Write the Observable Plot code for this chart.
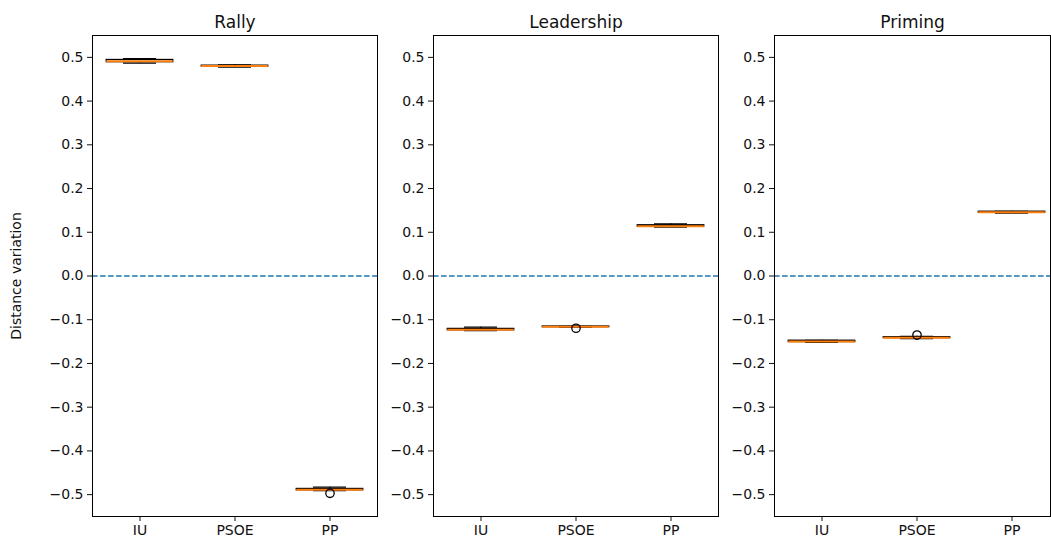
<!DOCTYPE html>
<html>
<head>
<meta charset="utf-8">
<script src="https://cdn.jsdelivr.net/npm/d3@7"></script>
<script src="https://cdn.jsdelivr.net/npm/@observablehq/plot@0.6"></script>
<style>
  html, body { margin: 0; padding: 0; background: #fff; overflow: hidden; }
  #wrap { position: relative; width: 1051px; height: 547px; }
  #wrap > div { position: absolute; top: 0; }
</style>
</head>
<body>
<div id="wrap"></div>
<script>
// ---- data ----
const panels = ["Rally", "Leadership", "Priming"];
const parties = ["IU", "PSOE", "PP"];
const yTicks = [-0.5, -0.4, -0.3, -0.2, -0.1, 0.0, 0.1, 0.2, 0.3, 0.4, 0.5];
const medians     = [[0.491, 0.480, -0.489], [-0.123, -0.116, 0.114], [-0.150, -0.141, 0.146]];
const q1          = [[0.489, 0.479, -0.490], [-0.124, -0.117, 0.113], [-0.151, -0.142, 0.145]];
const q3          = [[0.494, 0.481, -0.487], [-0.121, -0.1155, 0.116], [-0.148, -0.140, 0.147]];
const whiskerLow  = [[0.487, 0.478, -0.491], [-0.125, -0.1175, 0.112], [-0.152, -0.143, 0.144]];
const whiskerHigh = [[0.497, 0.483, -0.483], [-0.117, -0.115, 0.119], [-0.147, -0.138, 0.148]];
const outliers    = [[[], [], [-0.497]], [[], [-0.1195], []], [[], [-0.135], []]];

// ---- layout ----
const spineLeft = [92, 433, 774];
const ML = 92;
const wrap = document.getElementById("wrap");

panels.forEach((title, i) => {
  const rows = parties.map((p, j) => ({
    party: p, med: medians[i][j], q1: q1[i][j], q3: q3[i][j],
    wl: whiskerLow[i][j], wh: whiskerHigh[i][j]
  }));
  const fl = [];
  parties.forEach((p, j) => outliers[i][j].forEach(v => fl.push({party: p, v})));
  const last = i === 2;
  const chart = Plot.plot({
    width: last ? 369 : 380,
    height: 547,
    marginTop: 35,
    marginBottom: 31,
    marginLeft: ML,
    marginRight: last ? 1 : 3,
    style: {fontFamily: "DejaVu Sans", fontSize: "14px", color: "#111", background: "transparent", overflow: "visible"},
    x: {domain: parties, padding: 0, range: [ML, ML + 285], label: null, tickSize: 5, tickPadding: 4},
    y: {
      domain: [-0.55, 0.55], ticks: yTicks, tickFormat: d3.format(".1f"),
      label: i === 0 ? "Distance variation" : null, labelAnchor: "center", labelArrow: "none",
      labelOffset: 81, tickSize: 5, tickPadding: 4
    },
    marks: [
      Plot.ruleY([0], {stroke: "#1f77b4", strokeWidth: 1.6, strokeDasharray: "5.6,2.4"}),
      Plot.ruleX(rows, {x: "party", y1: "wl", y2: "q1", stroke: "black", strokeWidth: 1.3}),
      Plot.ruleX(rows, {x: "party", y1: "q3", y2: "wh", stroke: "black", strokeWidth: 1.3}),
      Plot.barY(rows, {x: "party", y1: "q1", y2: "q3", fill: "none", stroke: "black", strokeWidth: 1.3, insetLeft: 14.25, insetRight: 14.25}),
      Plot.tickY(rows, {x: "party", y: "wl", stroke: "black", strokeWidth: 1.3, inset: 31}),
      Plot.tickY(rows, {x: "party", y: "wh", stroke: "black", strokeWidth: 1.3, inset: 31}),
      Plot.tickY(rows, {x: "party", y: "med", stroke: "#ff7f0e", strokeWidth: 2, inset: 14.25}),
      Plot.dot(fl, {x: "party", y: "v", r: 4.2, stroke: "black", fill: "none", strokeWidth: 1.3}),
      Plot.text([title], {frameAnchor: "top", dy: -8, lineAnchor: "bottom", fontSize: 17, fill: "#111"}),
      Plot.frame({stroke: "black", strokeWidth: 1})
    ]
  });
  const holder = document.createElement("div");
  holder.style.left = (spineLeft[i] - ML) + "px";
  holder.appendChild(chart);
  wrap.appendChild(holder);
});
</script>
</body>
</html>
